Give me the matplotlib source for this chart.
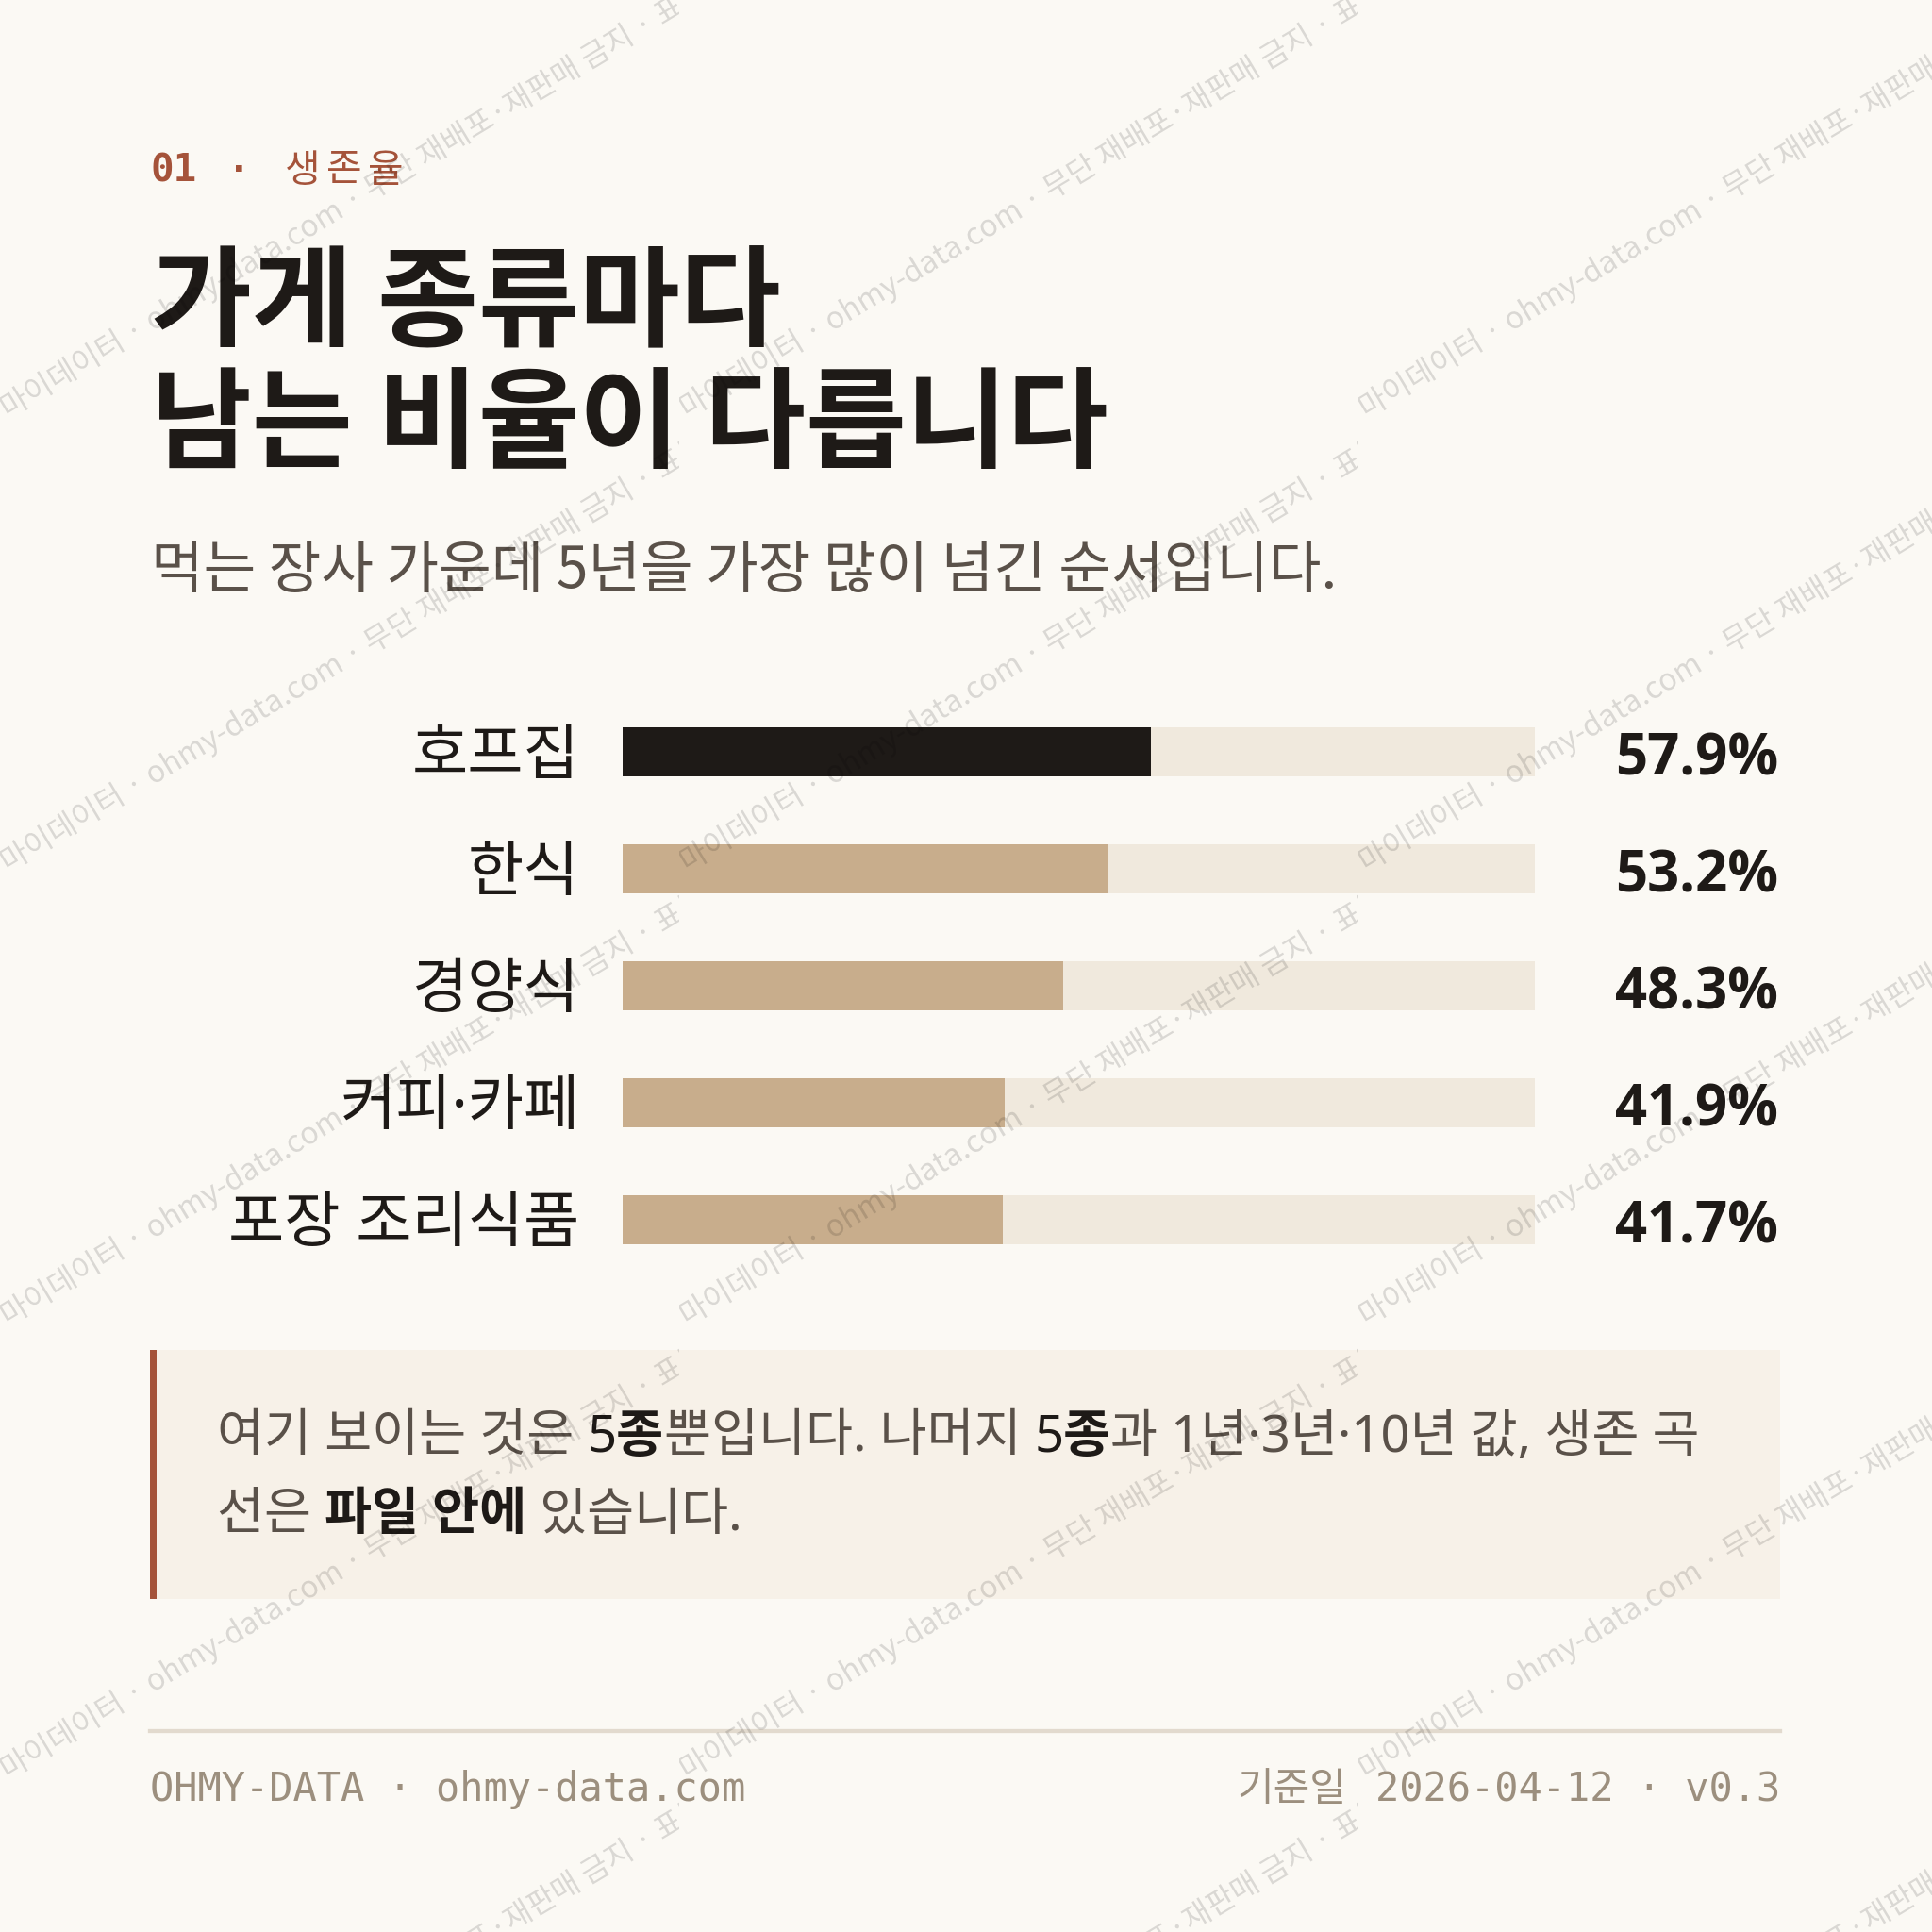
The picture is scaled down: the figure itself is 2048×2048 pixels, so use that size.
import matplotlib
matplotlib.use("Agg")
import matplotlib.pyplot as plt
from matplotlib.patches import Rectangle, PathPatch
from matplotlib.textpath import TextPath
from matplotlib.font_manager import FontProperties
from matplotlib.transforms import Affine2D

plt.rcParams['font.family'] = ['Noto Sans CJK KR', 'DejaVu Sans']

# data
categories = ['호프집', '한식', '경양식', '커피·카페', '포장 조리식품']
rates = [57.9, 53.2, 48.3, 41.9, 41.7]
kicker_num = '01'
kicker_word = '생존율'
title_lines = ['가게 종류마다', '남는 비율이 다릅니다']
subtitle = '먹는 장사 가운데 5년을 가장 많이 넘긴 순서입니다.'
note_line1 = [('여기 보이는 것은 ', False), ('5종', True), ('뿐입니다. 나머지 ', False),
              ('5종', True), ('과 1년·3년·10년 값, 생존 곡', False)]
note_line2 = [('선은 ', False), ('파일 안에', True), (' 있습니다.', False)]
footer_left = 'OHMY-DATA · ohmy-data.com'
footer_right_kr = '기준일'
footer_right = '2026-04-12 · v0.3'
watermark = '마이데이터 · ohmy-data.com · 무단 재배포·재판매 금지 · 표본 데이터'

BG = '#FBF9F4'
INK = '#1E1A17'
MUTED = '#5A5149'
RUST = '#A5533A'
TAN = '#C8AD8C'
TRACK = '#F0E9DD'
NOTE_BG = '#F7F1E8'
FOOT = '#9C8F7E'
MONO = ['DejaVu Sans Mono', 'Noto Sans CJK KR']
MIXED = ['Noto Sans', 'Noto Sans CJK KR']

fig = plt.figure(figsize=(8, 8), dpi=256, facecolor=BG)
bg = fig.add_axes([0, 0, 1, 1])
bg.set_xlim(0, 2048)
bg.set_ylim(2048, 0)
bg.axis('off')
renderer = fig.canvas.get_renderer()

# kicker
bg.text(160, 181, kicker_num, fontsize=11.5, color=RUST, fontweight='bold',
        family=MONO, va='center', ha='left')
bg.text(253, 181, '·', fontsize=11.5, color=RUST, fontweight='bold',
        family=MONO, va='center', ha='center')
for i, ch in enumerate(kicker_word):
    bg.text(302 + i * 44, 181, ch, fontsize=11.5, color=RUST, va='center', ha='left')

# title + subtitle
for i, line in enumerate(title_lines):
    bg.text(160, 324 + i * 129, line, fontsize=32.7, fontweight='bold', color=INK,
            va='center', ha='left')
bg.text(160, 606, subtitle, fontsize=17, color=MUTED, va='center', ha='left')

# bar chart
x0, x1 = 660, 1627
ytop, ybot = 735, 1355
ax = fig.add_axes([x0 / 2048, 1 - ybot / 2048, (x1 - x0) / 2048, (ybot - ytop) / 2048])
ax.set_facecolor('none')
ypos = list(range(len(categories)))
ax.barh(ypos, [100] * len(categories), height=0.42, color=TRACK, zorder=1)
ax.barh(ypos, rates, height=0.42, color=[INK] + [TAN] * (len(rates) - 1), zorder=2)
ax.set_xlim(0, 100)
ax.set_ylim(len(categories) - 0.5, -0.5)
ax.axis('off')
for y, (c, r) in enumerate(zip(categories, rates)):
    ax.text(-4.7, y + 0.05, c, fontsize=18.1, color=INK, family=MIXED,
            ha='right', va='center', clip_on=False)
    ax.text(126.7, y + 0.2, f'{r:.1f}%', fontsize=16.8, fontweight='bold', color=INK,
            family=['Open Sans', 'DejaVu Sans'], ha='right', va='baseline', clip_on=False)

# note box
bg.add_patch(Rectangle((159, 1431), 1887 - 159, 1695 - 1431, color=NOTE_BG, lw=0, zorder=0))
bg.add_patch(Rectangle((159, 1431), 7, 1695 - 1431, color=RUST, lw=0, zorder=1))


def inline(parts, x, y):
    for txt, bold in parts:
        t = bg.text(x, y, txt, fontsize=15.3, color=INK if bold else MUTED, family=MIXED,
                    fontweight='bold' if bold else 'normal', va='center', ha='left')
        x += t.get_window_extent(renderer).width


inline(note_line1, 230, 1524)
inline(note_line2, 230, 1607)

# footer
bg.plot([159, 1887], [1835, 1835], color='#E2DACE', lw=1.2)
bg.text(159, 1897, footer_left, fontsize=11.8, color=FOOT, family=MONO, va='center', ha='left')
tr = bg.text(1887, 1897, footer_right, fontsize=11.8, color=FOOT, family=MONO,
             va='center', ha='right')
wr = tr.get_window_extent(renderer).width
bg.text(1887 - wr - 30, 1897, footer_right_kr, fontsize=11.8, color=FOOT, va='center', ha='right')

# watermark tiles (y up, pixel units), each clipped to its tile
wm = fig.add_axes([0, 0, 1, 1], zorder=10)
wm.set_xlim(0, 2048)
wm.set_ylim(0, 2048)
wm.axis('off')
wm.patch.set_visible(False)
wm_path = TextPath((0, 0), watermark, size=32, prop=FontProperties(family='Noto Sans CJK KR'))
tw, th = 720, 481
for row in range(-1, 5):
    ty = 2048 - (444 + row * th)
    for col in range(3):
        cx = col * tw
        p = PathPatch(wm_path, facecolor='black', edgecolor='none', alpha=0.13,
                      transform=Affine2D().rotate_deg(31).translate(cx + 8, ty) + wm.transData)
        wm.add_patch(p)
        p.set_clip_path(Rectangle((cx, ty - 15), tw, th + 15, transform=wm.transData))

fig.savefig('out.png', dpi=256, facecolor=BG)
